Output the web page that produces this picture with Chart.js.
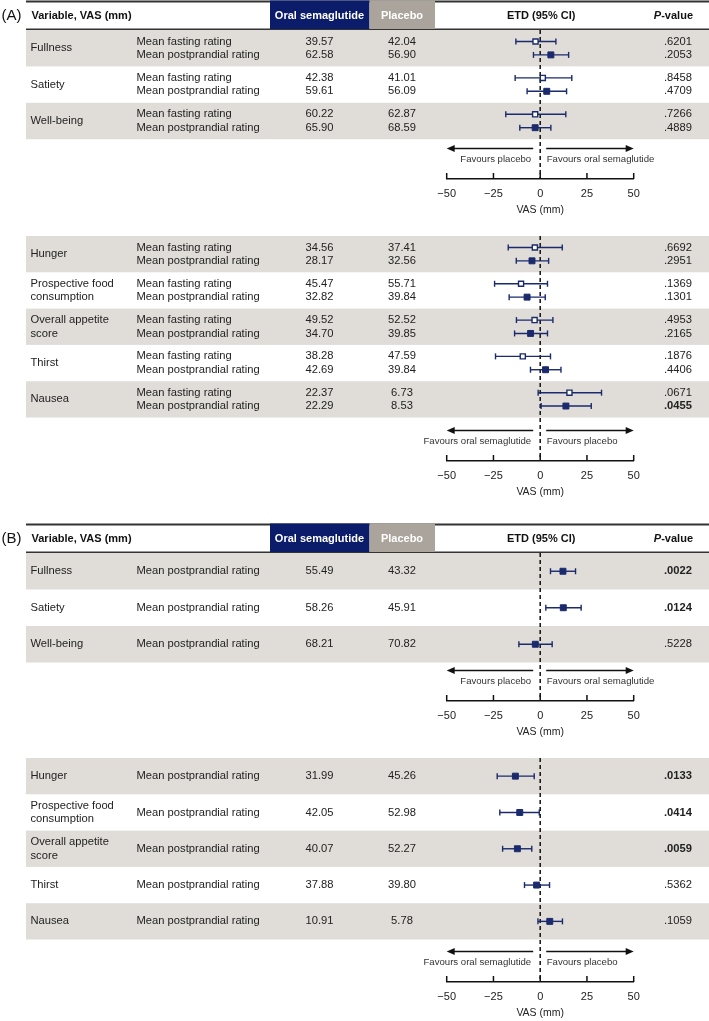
<!DOCTYPE html>
<html>
<head>
<meta charset="utf-8">
<title>VAS appetite ratings - oral semaglutide vs placebo</title>
<script src="https://cdn.jsdelivr.net/npm/chart.js@4.4.1/dist/chart.umd.min.js"></script>
<style>
  html, body { margin: 0; padding: 0; background: #fff; }
  #wrap { position: relative; width: 709px; height: 1021px; overflow: hidden; }
  #wrap canvas { position: absolute; left: 0; }
</style>
</head>
<body>
<div id="wrap">
  <canvas id="aTop" width="709" height="216" style="top:0px"></canvas>
  <canvas id="aBottom" width="709" height="282" style="top:216px"></canvas>
  <canvas id="bTop" width="709" height="240" style="top:498px"></canvas>
  <canvas id="bBottom" width="709" height="281" style="top:738px"></canvas>
</div>
<script>
var navy = '#1a2a6c';
var boxNavy = '#0b1c6b';
var boxGray = '#aaa49c';
var bandGray = '#e0ddd8';
var fontFamily = '"Liberation Sans", Arial, Helvetica, sans-serif';
var vasTicks = [-50, -25, 0, 25, 50];
var subGap = 0.184;

// (A) upper block: fasting and postprandial
var aTopGroups = [['Fullness'], ['Satiety'], ['Well-being']];
var aTopOralFasting = [39.57, 42.38, 60.22];
var aTopPlaceboFasting = [42.04, 41.01, 62.87];
var aTopEtdFasting = [-2.5, 1.4, -2.7];
var aTopLoFasting = [-13.0, -13.4, -18.4];
var aTopHiFasting = [8.4, 16.9, 13.7];
var aTopPFasting = [0.6201, 0.8458, 0.7266];
var aTopOralPost = [62.58, 59.61, 65.90];
var aTopPlaceboPost = [56.90, 56.09, 68.59];
var aTopEtdPost = [5.7, 3.5, -2.7];
var aTopLoPost = [-3.6, -7.0, -10.9];
var aTopHiPost = [15.2, 14.1, 5.7];
var aTopPPost = [0.2053, 0.4709, 0.4889];

// (A) lower block
var aBotGroups = [['Hunger'], ['Prospective food', 'consumption'], ['Overall appetite', 'score'], ['Thirst'], ['Nausea']];
var aBotOralFasting = [34.56, 45.47, 49.52, 38.28, 22.37];
var aBotPlaceboFasting = [37.41, 55.71, 52.52, 47.59, 6.73];
var aBotEtdFasting = [-2.85, -10.24, -3.0, -9.31, 15.64];
var aBotLoFasting = [-17.1, -24.4, -12.7, -23.9, -1.1];
var aBotHiFasting = [11.8, 3.9, 6.8, 5.5, 32.8];
var aBotPFasting = [0.6692, 0.1369, 0.4953, 0.1876, 0.0671];
var aBotOralPost = [28.17, 32.82, 34.70, 42.69, 22.29];
var aBotPlaceboPost = [32.56, 39.84, 39.85, 39.84, 8.53];
var aBotEtdPost = [-4.39, -7.02, -5.15, 2.85, 13.76];
var aBotLoPost = [-12.8, -16.6, -13.7, -5.2, 0.5];
var aBotHiPost = [4.5, 2.7, 3.9, 11.1, 27.3];
var aBotPPost = [0.2951, 0.1301, 0.2165, 0.4406, 0.0455];

// (B) upper block: postprandial only
var bTopGroups = [['Fullness'], ['Satiety'], ['Well-being']];
var bTopOral = [55.49, 58.26, 68.21];
var bTopPlacebo = [43.32, 45.91, 70.82];
var bTopEtd = [12.17, 12.35, -2.61];
var bTopLo = [5.5, 3.0, -11.4];
var bTopHi = [18.9, 21.9, 6.4];
var bTopP = [0.0022, 0.0124, 0.5228];

// (B) lower block
var bBotGroups = [['Hunger'], ['Prospective food', 'consumption'], ['Overall appetite', 'score'], ['Thirst'], ['Nausea']];
var bBotOral = [31.99, 42.05, 40.07, 37.88, 10.91];
var bBotPlacebo = [45.26, 52.98, 52.27, 39.80, 5.78];
var bBotEtd = [-13.27, -10.93, -12.20, -1.92, 5.13];
var bBotLo = [-23.0, -21.6, -20.1, -8.4, -1.2];
var bBotHi = [-3.2, -0.5, -4.5, 5.0, 11.9];
var bBotP = [0.0133, 0.0414, 0.0059, 0.5362, 0.1059];

function fmtP(p) {
    return p.toFixed(4).replace(/^0/, '');
}

function fmtTick(v) {
    return v < 0 ? '\u2212' + Math.abs(v) : String(v);
}

function buildRows(n, label, offset, open, oral, placebo, etd, lo, hi, p) {
    var rows = [];
    for (var i = 0; i < n; i++) {
        rows.push({
            group: i, offset: offset, label: label, open: open,
            oral: oral[i], placebo: placebo[i], etd: etd[i], lo: lo[i], hi: hi[i], p: p[i]
        });
    }
    return rows;
}

function line(ctx, x1, y1, x2, y2) {
    ctx.beginPath();
    ctx.moveTo(x1, y1);
    ctx.lineTo(x2, y2);
    ctx.stroke();
}

function arrow(ctx, from, tip, y) {
    var dir = tip > from ? 1 : -1;
    line(ctx, from, y, tip - dir * 6, y);
    ctx.beginPath();
    ctx.moveTo(tip, y);
    ctx.lineTo(tip - dir * 8, y - 3.5);
    ctx.lineTo(tip - dir * 8, y + 3.5);
    ctx.closePath();
    ctx.fill();
}

function drawHeader(chart, block) {
    var ctx = chart.ctx;
    var T = chart.chartArea.top;
    var x0 = chart.scales.x.getPixelForValue(0);
    var top = T - 28.5, mid = T - 14;
    ctx.save();
    ctx.strokeStyle = '#333';
    ctx.lineWidth = 2;
    line(ctx, 26, top, chart.width, top);
    ctx.lineWidth = 1.5;
    line(ctx, 26, T - 0.75, chart.width, T - 0.75);
    ctx.fillStyle = boxNavy;
    ctx.fillRect(270, top - 1, 99.5, T - top);
    ctx.fillStyle = boxGray;
    ctx.fillRect(369.5, top - 1, 65.5, T - top);

    ctx.textBaseline = 'middle';
    ctx.textAlign = 'left';
    ctx.fillStyle = '#111';
    ctx.font = '15px ' + fontFamily;
    ctx.fillText('(' + block.letter + ')', 1.5, mid);
    ctx.font = 'bold 11px ' + fontFamily;
    ctx.fillText('Variable, VAS (mm)', 31.5, mid);
    ctx.textAlign = 'center';
    ctx.fillText('ETD (95% CI)', x0 + 1, mid);
    ctx.fillStyle = '#fff';
    ctx.fillText('Oral semaglutide', 319.5, mid);
    ctx.fillText('Placebo', 402, mid);
    ctx.fillStyle = '#111';
    ctx.textAlign = 'right';
    var w = ctx.measureText('-value').width;
    ctx.fillText('-value', 693, mid);
    ctx.font = 'italic bold 11px ' + fontFamily;
    ctx.fillText('P', 693 - w, mid);
    ctx.restore();
}

function drawRowText(chart, block) {
    var ctx = chart.ctx, y = chart.scales.y;
    ctx.save();
    ctx.fillStyle = '#222';
    ctx.textBaseline = 'middle';
    ctx.font = '11.2px ' + fontFamily;
    ctx.textAlign = 'left';
    block.groups.forEach(function (lines, i) {
        lines.forEach(function (txt, k) {
            var off = lines.length === 1 ? 0 : (k === 0 ? -subGap : subGap);
            ctx.fillText(txt, 30.5, y.getPixelForValue(i + 0.5 + off));
        });
    });
    block.rows.forEach(function (r) {
        var py = y.getPixelForValue(r.group + 0.5 + r.offset);
        ctx.font = '11.2px ' + fontFamily;
        ctx.textAlign = 'left';
        ctx.fillText(r.label, 136.5, py);
        ctx.textAlign = 'center';
        ctx.fillText(r.oral.toFixed(2), 319.5, py);
        ctx.fillText(r.placebo.toFixed(2), 402, py);
        ctx.textAlign = 'right';
        ctx.font = (r.p < 0.05 ? 'bold ' : '') + '11.2px ' + fontFamily;
        ctx.fillText(fmtP(r.p), 692, py);
    });
    ctx.restore();
}

function drawFavours(chart, block) {
    var ctx = chart.ctx, x = chart.scales.x, B = chart.chartArea.bottom;
    var x0 = x.getPixelForValue(0);
    var ay = B - 30.5, ty = B - 19.5;
    ctx.save();
    ctx.strokeStyle = '#111';
    ctx.fillStyle = '#111';
    ctx.lineWidth = 1.3;
    arrow(ctx, x0 - 7, x.getPixelForValue(-50), ay);
    arrow(ctx, x0 + 6, x.getPixelForValue(50), ay);
    ctx.font = '9.6px ' + fontFamily;
    ctx.fillStyle = '#333';
    ctx.textBaseline = 'middle';
    ctx.textAlign = 'right';
    ctx.fillText(block.favourLeft, x0 - 9, ty);
    ctx.textAlign = 'left';
    ctx.fillText(block.favourRight, x0 + 6.5, ty);
    ctx.restore();
}

// tick marks stand up from the axis line, as in the figure
function drawUpTicks(chart) {
    var ctx = chart.ctx, x = chart.scales.x, B = chart.chartArea.bottom;
    ctx.save();
    ctx.strokeStyle = '#111';
    ctx.lineWidth = 1.5;
    x.ticks.forEach(function (t) {
        var px = x.getPixelForValue(t.value);
        line(ctx, px, B, px, B - 6);
    });
    ctx.restore();
}

function drawZeroLine(chart) {
    var ctx = chart.ctx, area = chart.chartArea;
    var x0 = chart.scales.x.getPixelForValue(0);
    ctx.save();
    ctx.strokeStyle = '#111';
    ctx.lineWidth = 1.5;
    ctx.setLineDash([4, 3]);
    line(ctx, x0, area.top, x0, area.bottom);
    ctx.restore();
}

function drawErrorBars(chart) {
    var ctx = chart.ctx, x = chart.scales.x;
    ctx.save();
    ctx.strokeStyle = navy;
    ctx.lineWidth = 1.4;
    chart.data.datasets.forEach(function (ds, d) {
        var meta = chart.getDatasetMeta(d);
        ds.data.forEach(function (pt, i) {
            var py = meta.data[i].y;
            var x1 = x.getPixelForValue(pt.lo), x2 = x.getPixelForValue(pt.hi);
            line(ctx, x1, py, x2, py);
            line(ctx, x1, py - 3, x1, py + 3);
            line(ctx, x2, py - 3, x2, py + 3);
        });
    });
    ctx.restore();
}

function forestPlugin(block) {
    return {
        id: 'forest',
        beforeDraw: function (chart) {
            var ctx = chart.ctx, y = chart.scales.y;
            ctx.save();
            ctx.fillStyle = bandGray;
            for (var i = 0; i < block.groups.length; i += 2) {
                var t = y.getPixelForValue(i), b = y.getPixelForValue(i + 1);
                ctx.fillRect(26, t, chart.width - 26, b - t);
            }
            ctx.restore();
            if (block.letter) drawHeader(chart, block);
        },
        beforeDatasetsDraw: function (chart) {
            drawZeroLine(chart);
            drawUpTicks(chart);
            drawErrorBars(chart);
        },
        afterDraw: function (chart) {
            drawRowText(chart, block);
            drawFavours(chart, block);
        }
    };
}

function setupChart(id, block) {
    var openPts = [], filledPts = [];
    block.rows.forEach(function (r) {
        var pt = { x: r.etd, y: r.group + 0.5 + r.offset, lo: r.lo, hi: r.hi };
        (r.open ? openPts : filledPts).push(pt);
    });

    return new Chart(document.getElementById(id), {
        type: 'scatter',
        data: {
            datasets: [{
                data: openPts,
                pointStyle: 'rect',
                pointRadius: 3.6,
                backgroundColor: '#fff',
                borderColor: navy,
                borderWidth: 1.4,
                clip: false
            }, {
                data: filledPts,
                pointStyle: 'rect',
                pointRadius: 4.2,
                backgroundColor: navy,
                borderColor: navy,
                borderWidth: 1,
                clip: false
            }]
        },
        options: {
            responsive: false,
            animation: false,
            events: [],
            layout: { padding: { left: 446.7, right: 75.3, top: block.padTop, bottom: 0 } },
            plugins: { legend: { display: false }, tooltip: { enabled: false } },
            scales: {
                x: {
                    type: 'linear',
                    min: -50,
                    max: 50,
                    afterBuildTicks: function (s) {
                        s.ticks = vasTicks.map(function (v) { return { value: v }; });
                    },
                    afterFit: function (s) { s.height = 37; },
                    ticks: {
                        color: '#222',
                        font: { size: 11, family: fontFamily },
                        padding: 8,
                        maxRotation: 0,
                        callback: fmtTick
                    },
                    grid: { drawOnChartArea: false, drawTicks: false },
                    border: { display: true, color: '#111', width: 1.5 },
                    title: {
                        display: true,
                        text: 'VAS (mm)',
                        color: '#222',
                        font: { size: 10.5, family: fontFamily },
                        padding: { top: 0, bottom: 0 }
                    }
                },
                y: { type: 'linear', reverse: true, min: 0, max: block.yMax, display: false }
            }
        },
        plugins: [forestPlugin(block)]
    });
}

setupChart('aTop', {
    letter: 'A', padTop: 30, yMax: 4.093, groups: aTopGroups,
    favourLeft: 'Favours placebo', favourRight: 'Favours oral semaglutide',
    rows: buildRows(3, 'Mean fasting rating', -subGap, true, aTopOralFasting, aTopPlaceboFasting,
        aTopEtdFasting, aTopLoFasting, aTopHiFasting, aTopPFasting)
        .concat(buildRows(3, 'Mean postprandial rating', subGap, false, aTopOralPost, aTopPlaceboPost,
            aTopEtdPost, aTopLoPost, aTopHiPost, aTopPPost))
});

setupChart('aBottom', {
    letter: null, padTop: 20, yMax: 6.198, groups: aBotGroups,
    favourLeft: 'Favours oral semaglutide', favourRight: 'Favours placebo',
    rows: buildRows(5, 'Mean fasting rating', -subGap, true, aBotOralFasting, aBotPlaceboFasting,
        aBotEtdFasting, aBotLoFasting, aBotHiFasting, aBotPFasting)
        .concat(buildRows(5, 'Mean postprandial rating', subGap, false, aBotOralPost, aBotPlaceboPost,
            aBotEtdPost, aBotLoPost, aBotHiPost, aBotPPost))
});

setupChart('bTop', {
    letter: 'B', padTop: 55, yMax: 4.055, groups: bTopGroups,
    favourLeft: 'Favours placebo', favourRight: 'Favours oral semaglutide',
    rows: buildRows(3, 'Mean postprandial rating', 0, false, bTopOral, bTopPlacebo, bTopEtd, bTopLo, bTopHi, bTopP)
});

setupChart('bBottom', {
    letter: null, padTop: 20, yMax: 6.17, groups: bBotGroups,
    favourLeft: 'Favours oral semaglutide', favourRight: 'Favours placebo',
    rows: buildRows(5, 'Mean postprandial rating', 0, false, bBotOral, bBotPlacebo, bBotEtd, bBotLo, bBotHi, bBotP)
});
</script>
</body>
</html>
